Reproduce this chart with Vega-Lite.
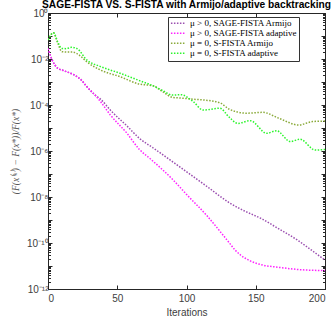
{
  "$schema": "https://vega.github.io/schema/vega-lite/v6.json",
  "autosize": "none",
  "width": 277,
  "height": 276,
  "padding": {"left": 48, "top": 13, "right": 7, "bottom": 38},
  "background": "white",
  "title": {"text": "SAGE-FISTA VS. S-FISTA with Armijo/adaptive backtracking", "font": "Liberation Sans", "fontSize": 10.2, "fontWeight": "bold", "color": "#000", "offset": 1, "dy": 3, "anchor": "middle"},
  "config": {"view": {"stroke": "#262626", "strokeWidth": 1}},
  "data": {"values": [
    {"it": 0, "s": "μ > 0, SAGE-FISTA Armijo", "v": 2.88e-2},
    {"it": 3, "s": "μ > 0, SAGE-FISTA Armijo", "v": 9.1e-3},
    {"it": 7, "s": "μ > 0, SAGE-FISTA Armijo", "v": 3.98e-3},
    {"it": 11, "s": "μ > 0, SAGE-FISTA Armijo", "v": 3.16e-3},
    {"it": 19, "s": "μ > 0, SAGE-FISTA Armijo", "v": 2.0e-3},
    {"it": 24, "s": "μ > 0, SAGE-FISTA Armijo", "v": 1.23e-3},
    {"it": 28, "s": "μ > 0, SAGE-FISTA Armijo", "v": 6.3e-4},
    {"it": 34, "s": "μ > 0, SAGE-FISTA Armijo", "v": 2.69e-4},
    {"it": 38, "s": "μ > 0, SAGE-FISTA Armijo", "v": 1.78e-4},
    {"it": 45, "s": "μ > 0, SAGE-FISTA Armijo", "v": 6.0e-5},
    {"it": 57, "s": "μ > 0, SAGE-FISTA Armijo", "v": 1.23e-5},
    {"it": 66, "s": "μ > 0, SAGE-FISTA Armijo", "v": 3.55e-6},
    {"it": 76, "s": "μ > 0, SAGE-FISTA Armijo", "v": 1.35e-6},
    {"it": 90, "s": "μ > 0, SAGE-FISTA Armijo", "v": 3.4e-7},
    {"it": 115, "s": "μ > 0, SAGE-FISTA Armijo", "v": 2.8e-8},
    {"it": 131, "s": "μ > 0, SAGE-FISTA Armijo", "v": 5.6e-9},
    {"it": 139, "s": "μ > 0, SAGE-FISTA Armijo", "v": 3.0e-9},
    {"it": 155, "s": "μ > 0, SAGE-FISTA Armijo", "v": 1.07e-9},
    {"it": 167, "s": "μ > 0, SAGE-FISTA Armijo", "v": 4.0e-10},
    {"it": 180, "s": "μ > 0, SAGE-FISTA Armijo", "v": 1.35e-10},
    {"it": 190, "s": "μ > 0, SAGE-FISTA Armijo", "v": 5.0e-11},
    {"it": 200, "s": "μ > 0, SAGE-FISTA Armijo", "v": 1.8e-11},

    {"it": 0, "s": "μ > 0, SAGE-FISTA adaptive", "v": 2.88e-2},
    {"it": 3, "s": "μ > 0, SAGE-FISTA adaptive", "v": 9.1e-3},
    {"it": 7, "s": "μ > 0, SAGE-FISTA adaptive", "v": 3.98e-3},
    {"it": 11, "s": "μ > 0, SAGE-FISTA adaptive", "v": 3.16e-3},
    {"it": 19, "s": "μ > 0, SAGE-FISTA adaptive", "v": 2.0e-3},
    {"it": 24, "s": "μ > 0, SAGE-FISTA adaptive", "v": 1.23e-3},
    {"it": 28, "s": "μ > 0, SAGE-FISTA adaptive", "v": 6.3e-4},
    {"it": 34, "s": "μ > 0, SAGE-FISTA adaptive", "v": 2.69e-4},
    {"it": 38, "s": "μ > 0, SAGE-FISTA adaptive", "v": 1.38e-4},
    {"it": 45, "s": "μ > 0, SAGE-FISTA adaptive", "v": 3.7e-5},
    {"it": 57, "s": "μ > 0, SAGE-FISTA adaptive", "v": 5.9e-6},
    {"it": 66, "s": "μ > 0, SAGE-FISTA adaptive", "v": 1.17e-6},
    {"it": 74, "s": "μ > 0, SAGE-FISTA adaptive", "v": 4.5e-7},
    {"it": 90, "s": "μ > 0, SAGE-FISTA adaptive", "v": 5.8e-8},
    {"it": 100, "s": "μ > 0, SAGE-FISTA adaptive", "v": 1.3e-8},
    {"it": 115, "s": "μ > 0, SAGE-FISTA adaptive", "v": 1.48e-9},
    {"it": 125, "s": "μ > 0, SAGE-FISTA adaptive", "v": 2.8e-10},
    {"it": 131, "s": "μ > 0, SAGE-FISTA adaptive", "v": 1.0e-10},
    {"it": 135, "s": "μ > 0, SAGE-FISTA adaptive", "v": 5.0e-11},
    {"it": 139, "s": "μ > 0, SAGE-FISTA adaptive", "v": 3.0e-11},
    {"it": 146, "s": "μ > 0, SAGE-FISTA adaptive", "v": 1.66e-11},
    {"it": 155, "s": "μ > 0, SAGE-FISTA adaptive", "v": 1.1e-11},
    {"it": 167, "s": "μ > 0, SAGE-FISTA adaptive", "v": 8.7e-12},
    {"it": 180, "s": "μ > 0, SAGE-FISTA adaptive", "v": 7.1e-12},
    {"it": 200, "s": "μ > 0, SAGE-FISTA adaptive", "v": 6.3e-12},

    {"it": 0, "s": "μ = 0, S-FISTA Armijo", "v": 0.0676},
    {"it": 4, "s": "μ = 0, S-FISTA Armijo", "v": 0.138},
    {"it": 7, "s": "μ = 0, S-FISTA Armijo", "v": 0.05},
    {"it": 10, "s": "μ = 0, S-FISTA Armijo", "v": 0.0209},
    {"it": 14, "s": "μ = 0, S-FISTA Armijo", "v": 0.02},
    {"it": 18, "s": "μ = 0, S-FISTA Armijo", "v": 0.02},
    {"it": 23, "s": "μ = 0, S-FISTA Armijo", "v": 0.0141},
    {"it": 28, "s": "μ = 0, S-FISTA Armijo", "v": 0.0076},
    {"it": 38, "s": "μ = 0, S-FISTA Armijo", "v": 0.0033},
    {"it": 52, "s": "μ = 0, S-FISTA Armijo", "v": 0.0017},
    {"it": 66, "s": "μ = 0, S-FISTA Armijo", "v": 8.1e-4},
    {"it": 76, "s": "μ = 0, S-FISTA Armijo", "v": 6.8e-4},
    {"it": 83, "s": "μ = 0, S-FISTA Armijo", "v": 3.7e-4},
    {"it": 90, "s": "μ = 0, S-FISTA Armijo", "v": 2.14e-4},
    {"it": 96, "s": "μ = 0, S-FISTA Armijo", "v": 2.0e-4},
    {"it": 105, "s": "μ = 0, S-FISTA Armijo", "v": 1.78e-4},
    {"it": 112, "s": "μ = 0, S-FISTA Armijo", "v": 1.66e-4},
    {"it": 124, "s": "μ = 0, S-FISTA Armijo", "v": 1.26e-4},
    {"it": 131, "s": "μ = 0, S-FISTA Armijo", "v": 6.5e-5},
    {"it": 136, "s": "μ = 0, S-FISTA Armijo", "v": 5.1e-5},
    {"it": 143, "s": "μ = 0, S-FISTA Armijo", "v": 4.4e-5},
    {"it": 155, "s": "μ = 0, S-FISTA Armijo", "v": 4.8e-5},
    {"it": 167, "s": "μ = 0, S-FISTA Armijo", "v": 2.6e-5},
    {"it": 181, "s": "μ = 0, S-FISTA Armijo", "v": 1.35e-5},
    {"it": 191, "s": "μ = 0, S-FISTA Armijo", "v": 1.9e-5},
    {"it": 200, "s": "μ = 0, S-FISTA Armijo", "v": 2.0e-5},

    {"it": 0, "s": "μ = 0, S-FISTA adaptive", "v": 0.0676},
    {"it": 4, "s": "μ = 0, S-FISTA adaptive", "v": 0.138},
    {"it": 7, "s": "μ = 0, S-FISTA adaptive", "v": 0.0562},
    {"it": 10, "s": "μ = 0, S-FISTA adaptive", "v": 0.0288},
    {"it": 13, "s": "μ = 0, S-FISTA adaptive", "v": 0.0282},
    {"it": 17, "s": "μ = 0, S-FISTA adaptive", "v": 0.0324},
    {"it": 21, "s": "μ = 0, S-FISTA adaptive", "v": 0.0282},
    {"it": 28, "s": "μ = 0, S-FISTA adaptive", "v": 0.00912},
    {"it": 38, "s": "μ = 0, S-FISTA adaptive", "v": 0.00468},
    {"it": 52, "s": "μ = 0, S-FISTA adaptive", "v": 0.0024},
    {"it": 66, "s": "μ = 0, S-FISTA adaptive", "v": 0.00115},
    {"it": 76, "s": "μ = 0, S-FISTA adaptive", "v": 6.76e-4},
    {"it": 83, "s": "μ = 0, S-FISTA adaptive", "v": 4.17e-4},
    {"it": 90, "s": "μ = 0, S-FISTA adaptive", "v": 2.69e-4},
    {"it": 96, "s": "μ = 0, S-FISTA adaptive", "v": 2.82e-4},
    {"it": 105, "s": "μ = 0, S-FISTA adaptive", "v": 1.38e-4},
    {"it": 112, "s": "μ = 0, S-FISTA adaptive", "v": 6.03e-5},
    {"it": 124, "s": "μ = 0, S-FISTA adaptive", "v": 7.24e-5},
    {"it": 131, "s": "μ = 0, S-FISTA adaptive", "v": 2.88e-5},
    {"it": 137, "s": "μ = 0, S-FISTA adaptive", "v": 1.58e-5},
    {"it": 146, "s": "μ = 0, S-FISTA adaptive", "v": 2.09e-5},
    {"it": 158, "s": "μ = 0, S-FISTA adaptive", "v": 5.89e-6},
    {"it": 165, "s": "μ = 0, S-FISTA adaptive", "v": 7.59e-6},
    {"it": 175, "s": "μ = 0, S-FISTA adaptive", "v": 2.57e-6},
    {"it": 182, "s": "μ = 0, S-FISTA adaptive", "v": 3.24e-6},
    {"it": 193, "s": "μ = 0, S-FISTA adaptive", "v": 1.10e-6},
    {"it": 200, "s": "μ = 0, S-FISTA adaptive", "v": 1.17e-6}
  ]},
  "layer": [
    {
      "mark": {"type": "line", "strokeWidth": 1.5, "strokeDash": [1.5, 1.5], "interpolate": "monotone", "clip": true},
      "encoding": {
        "x": {"field": "it", "type": "quantitative", "scale": {"domain": [0, 200], "nice": false},
          "axis": {"values": [0, 50, 100, 150, 200], "title": "Iterations", "tickSize": -4, "tickColor": "#262626", "domainColor": "#262626",
            "labelFont": "Liberation Sans", "labelFontSize": 10, "labelColor": "#404040", "labelPadding": 8,
            "titleFont": "Liberation Sans", "titleFontSize": 10, "titleFontWeight": "normal", "titleColor": "#404040", "titlePadding": 4, "grid": false}},
        "y": {"field": "v", "type": "quantitative", "scale": {"type": "log", "domain": [1e-12, 1], "nice": false},
          "axis": {"tickCount": 120, "labelOverlap": false, "grid": false,
            "labelExpr": "abs(log(datum.value)/LN10 - round(log(datum.value)/LN10)) < 0.01 && round(log(datum.value)/LN10) % 2 == 0 ? (round(log(datum.value)/LN10) == 0 ? '10⁰' : round(log(datum.value)/LN10) == -2 ? '10⁻²' : round(log(datum.value)/LN10) == -4 ? '10⁻⁴' : round(log(datum.value)/LN10) == -6 ? '10⁻⁶' : round(log(datum.value)/LN10) == -8 ? '10⁻⁸' : round(log(datum.value)/LN10) == -10 ? '10⁻¹⁰' : '10⁻¹²') : ''",
            "tickSize": {"condition": {"test": "abs(log(datum.value)/LN10 - round(log(datum.value)/LN10)) < 0.01", "value": -4}, "value": -2.5},
            "tickColor": "#262626", "domainColor": "#262626",
            "labelFont": "Liberation Sans", "labelFontSize": 10, "labelColor": "#404040", "labelPadding": 4,
            "title": "(F(x⁽ᵏ⁾) − F(x*))/F(x*)", "titleFont": "Liberation Serif", "titleFontStyle": "italic", "titleFontSize": 9.5, "titleFontWeight": "normal", "titleColor": "#555555", "titlePadding": 6}},
        "color": {"field": "s", "type": "nominal",
          "scale": {"domain": ["μ > 0, SAGE-FISTA Armijo", "μ > 0, SAGE-FISTA adaptive", "μ = 0, S-FISTA Armijo", "μ = 0, S-FISTA adaptive"],
            "range": ["#9b4fb0", "#ff22ff", "#8aaa3a", "#2cf52c"]},
          "legend": {"title": null, "orient": "none", "legendX": 120, "legendY": 4, "direction": "vertical",
            "strokeColor": "#333333", "fillColor": "white", "padding": 2, "clipHeight": 8.5,
            "symbolType": "stroke", "symbolSize": 200, "symbolStrokeWidth": 1.5, "symbolDash": [1.5, 1.5],
            "labelFont": "Liberation Serif", "labelFontSize": 9, "labelColor": "#000", "rowPadding": 0, "labelOffset": 4}}
      }
    },
    {
      "mark": {"type": "line", "opacity": 0},
      "encoding": {
        "x": {"field": "it", "type": "quantitative", "axis": {"orient": "top", "values": [0, 50, 100, 150, 200], "labels": false, "title": null, "tickSize": -4, "tickColor": "#262626", "domainColor": "#262626", "grid": false}},
        "y": {"field": "v", "type": "quantitative", "axis": {"orient": "right", "tickCount": 120, "labels": false, "title": null, "grid": false, "tickColor": "#262626", "domainColor": "#262626",
          "tickSize": {"condition": {"test": "abs(log(datum.value)/LN10 - round(log(datum.value)/LN10)) < 0.01", "value": -4}, "value": -2.5}}},
        "detail": {"field": "s", "type": "nominal"}
      }
    }
  ],
  "resolve": {"axis": {"x": "independent", "y": "independent"}}
}
